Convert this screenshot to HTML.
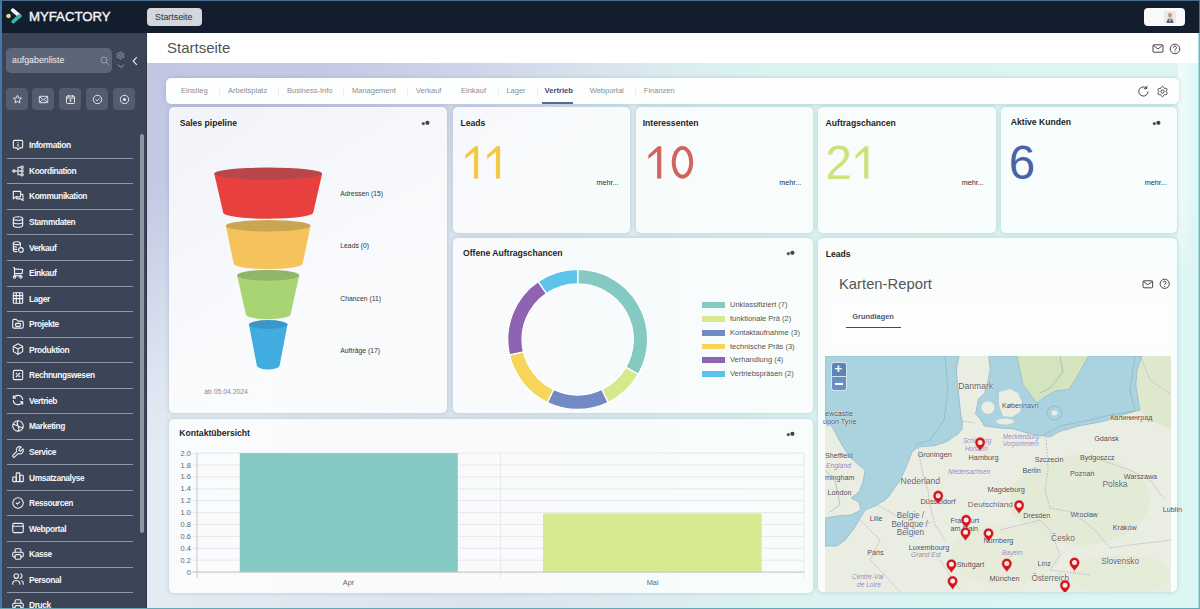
<!DOCTYPE html>
<html><head><meta charset="utf-8">
<style>
*{box-sizing:border-box;margin:0;padding:0}
html,body{width:1200px;height:609px;overflow:hidden}
body{position:relative;font-family:"Liberation Sans",sans-serif;background:#dff3f3;color:#222}
.a{position:absolute}
#top{left:0;top:0;width:1200px;height:33px;background:#121d2e}
#side{left:0;top:33px;width:147px;height:576px;background:#3b4557}
#main{left:147px;top:33px;width:1053px;height:576px;background:linear-gradient(144.6deg,rgba(194,198,227,1) 0%,rgba(195,199,228,.95) 12%,rgba(196,200,228,.55) 20%,rgba(196,200,228,.15) 27%,rgba(196,200,228,0) 32%),linear-gradient(to right,#e4ebf3 0%,#dce4ee 29%,#dbeaf0 45%,#dcf3f1 60%,#dcf6f3 100%)}
#hdr{left:147px;top:33px;width:1053px;height:30px;background:#fff}
.card{position:absolute;background:#f7f9fb;border-radius:5px;box-shadow:0 0 4px rgba(60,100,130,.25)}
.t{position:absolute;white-space:nowrap;line-height:1}
.ct{font-weight:bold;font-size:8.6px;color:#1e1e1e}
.nav{position:absolute;left:0;width:140px;height:25.6px}
.nav .sep{position:absolute;left:7px;width:126px;top:0;height:1px;background:#8f98a6}
.nav .lbl{position:absolute;left:29px;top:9.2px;font-size:8.4px;font-weight:bold;color:#f4f6fa;letter-spacing:-0.4px;line-height:1}
.nav svg{position:absolute;left:11px;top:5.8px}
.tab{position:absolute;top:87px;font-size:7.5px;color:#8a8e94;line-height:1}
.tsep{position:absolute;top:86.5px;width:1px;height:9px;background:#eceef0}
.num{position:absolute;font-size:47.5px;line-height:1;font-weight:normal}
.mehr{position:absolute;font-size:7.2px;color:#2a2a2a;line-height:1}
</style></head><body>
<div class="a" id="top"></div>
<div class="a" id="side"></div>
<div class="a" id="main"></div>
<div class="a" id="hdr"></div>
<div class="a" style="left:1178px;top:63px;width:20px;height:230px;background:linear-gradient(to right,rgba(246,252,252,.9) 0%,rgba(240,251,250,.6) 45%,rgba(214,245,241,.3) 100%);-webkit-mask-image:linear-gradient(to bottom,#000 60%,transparent 100%)"></div>


<!-- top bar -->
<svg class="a" style="left:4px;top:6px" width="20" height="20" viewBox="0 0 20 20">
<circle cx="4.5" cy="10" r="2.3" fill="#e8d97a"/>
<path d="M8.8 4.2 L15.6 9.9" stroke="#f4f6f8" stroke-width="3.8" stroke-linecap="round" fill="none"/>
<path d="M15.6 9.9 L9.2 15.6" stroke="#3fb3a3" stroke-width="3.8" stroke-linecap="round" fill="none"/>
</svg>
<div class="t" style="left:29px;top:10.3px;font-size:13.2px;color:#f4f6f9;-webkit-text-stroke:0.4px #f4f6f9">MYFACTORY</div>
<div class="a" style="left:147px;top:8px;width:55px;height:18px;background:#d3d6dc;border-radius:4px"></div>
<div class="t" style="left:155px;top:12.9px;font-size:8.9px;color:#2b2e33">Startseite</div>
<div class="a" style="left:1144px;top:8px;width:41px;height:18px;background:#f8f9fa;border-radius:4px"></div>
<svg class="a" style="left:1164px;top:11px" width="12" height="12" viewBox="0 0 12 12">
<rect x="0" y="0" width="12" height="12" fill="#eceae6"/>
<ellipse cx="6" cy="4.2" rx="2" ry="2.4" fill="#c89a7a"/>
<path d="M2.5 12 Q3 7.5 6 7.3 Q9 7.5 9.5 12 Z" fill="#5d6470"/>
<rect x="5.4" y="7.3" width="1.2" height="3" fill="#e9e5e0"/>
</svg>

<!-- sidebar -->
<div class="a" style="left:6px;top:48px;width:106px;height:25px;background:#5d6678;border-radius:5px"></div>
<div class="t" style="left:12px;top:56px;font-size:8.8px;color:#eef0f3">aufgabenliste</div>
<svg class="a" style="left:100px;top:56px" width="10" height="10" viewBox="0 0 10 10"><circle cx="4" cy="4" r="3" fill="none" stroke="#9aa2ae" stroke-width="1"/><path d="M6.2 6.2L9 9" stroke="#9aa2ae" stroke-width="1"/></svg>
<svg class="a" style="left:116px;top:50.5px" width="9" height="9" viewBox="0 0 9 9"><path d="M4.50 0.75L4.97 0.94L5.33 1.41L5.58 1.90L5.83 2.21L6.21 2.27L6.76 2.24L7.35 2.32L7.75 2.62L7.82 3.13L7.59 3.67L7.29 4.13L7.15 4.50L7.29 4.87L7.59 5.33L7.82 5.87L7.75 6.37L7.35 6.68L6.76 6.76L6.21 6.73L5.83 6.79L5.58 7.10L5.33 7.59L4.97 8.06L4.50 8.25L4.03 8.06L3.67 7.59L3.42 7.10L3.18 6.79L2.79 6.73L2.24 6.76L1.65 6.68L1.25 6.38L1.18 5.87L1.41 5.33L1.71 4.87L1.85 4.50L1.71 4.13L1.41 3.67L1.18 3.13L1.25 2.62L1.65 2.32L2.24 2.24L2.79 2.27L3.17 2.21L3.42 1.90L3.67 1.41L4.03 0.94Z" fill="none" stroke="#a9b0bb" stroke-width=".8"/><circle cx="4.5" cy="4.5" r="1.2" fill="none" stroke="#a9b0bb" stroke-width=".8"/></svg>
<svg class="a" style="left:117px;top:63px" width="8" height="6" viewBox="0 0 8 6"><path d="M1 1.5l3 3 3-3" fill="none" stroke="#a9b0bb" stroke-width=".9"/></svg>
<svg class="a" style="left:131px;top:56px" width="8" height="10" viewBox="0 0 8 10"><path d="M5.8 1.2L2.2 5l3.6 3.8" fill="none" stroke="#e2e6ec" stroke-width="1.2"/></svg>
<div class="a" style="left:6px;top:88px;width:22px;height:22px;background:#545d6f;border-radius:4px"></div>
<svg class="a" style="left:11.5px;top:93.5px" width="11" height="11" viewBox="0 0 11 11"><path d="M5.5 1.3l1.2 2.6 2.8.3-2.1 1.9.6 2.8-2.5-1.4-2.5 1.4.6-2.8-2.1-1.9 2.8-.3z" fill="none" stroke="#eef1f5" stroke-width=".9" stroke-linejoin="round"/></svg>
<div class="a" style="left:32px;top:88px;width:22px;height:22px;background:#545d6f;border-radius:4px"></div>
<svg class="a" style="left:37.5px;top:93.5px" width="11" height="11" viewBox="0 0 11 11"><rect x="1.3" y="2.3" width="8.4" height="6.4" rx=".8" fill="none" stroke="#eef1f5" stroke-width=".9"/><path d="M1.5 2.7l4 3.2 4-3.2M1.5 8.4l3-2.6M9.5 8.4l-3-2.6" fill="none" stroke="#eef1f5" stroke-width=".9"/></svg>
<div class="a" style="left:59px;top:88px;width:22px;height:22px;background:#545d6f;border-radius:4px"></div>
<svg class="a" style="left:64.5px;top:93.5px" width="11" height="11" viewBox="0 0 11 11"><rect x="1.5" y="2" width="8" height="7.5" rx="1" fill="none" stroke="#eef1f5" stroke-width=".9"/><path d="M1.5 4h8M3.5 1v2M7.5 1v2M4.5 5.8h2M5.5 5.8v2.3" fill="none" stroke="#eef1f5" stroke-width=".9"/></svg>
<div class="a" style="left:86px;top:88px;width:22px;height:22px;background:#545d6f;border-radius:4px"></div>
<svg class="a" style="left:91.5px;top:93.5px" width="11" height="11" viewBox="0 0 11 11"><circle cx="5.5" cy="5.5" r="4.2" fill="none" stroke="#eef1f5" stroke-width=".9"/><path d="M3.7 5.6l1.3 1.3 2.4-2.5" fill="none" stroke="#eef1f5" stroke-width=".9"/></svg>
<div class="a" style="left:113px;top:88px;width:22px;height:22px;background:#545d6f;border-radius:4px"></div>
<svg class="a" style="left:118.5px;top:93.5px" width="11" height="11" viewBox="0 0 11 11"><circle cx="5.5" cy="5.5" r="4.2" fill="none" stroke="#eef1f5" stroke-width=".9"/><circle cx="5.5" cy="5.5" r="1.5" fill="#eef1f5"/></svg>
<div class="nav" style="top:132.20px"><svg width="14" height="14" viewBox="0 0 24 24" fill="none" stroke="#eef1f5" stroke-width="1.9" stroke-linecap="round" stroke-linejoin="round"><path d="M6 4h12a2 2 0 0 1 2 2v9a2 2 0 0 1-2 2h-3.5L12 20l-2.5-3H6a2 2 0 0 1-2-2V6a2 2 0 0 1 2-2z"/><path d="M12 8v.01M12 11v3"/></svg><div class="lbl">Information</div></div>
<div class="nav" style="top:157.75px"><div class="sep"></div><svg width="14" height="14" viewBox="0 0 24 24" fill="none" stroke="#eef1f5" stroke-width="1.9" stroke-linecap="round" stroke-linejoin="round"><circle cx="5" cy="12" r="2"/><circle cx="19" cy="5.5" r="2"/><circle cx="19" cy="12" r="2"/><circle cx="19" cy="18.5" r="2"/><path d="M7 12h10M12 5.5v13M12 5.5h5M12 18.5h5"/></svg><div class="lbl">Koordination</div></div>
<div class="nav" style="top:183.30px"><div class="sep"></div><svg width="14" height="14" viewBox="0 0 24 24" fill="none" stroke="#eef1f5" stroke-width="1.9" stroke-linecap="round" stroke-linejoin="round"><path d="M4 4h11a1.5 1.5 0 0 1 1.5 1.5V12a1.5 1.5 0 0 1-1.5 1.5H8l-4 3.5V5.5A1.5 1.5 0 0 1 4 4z"/><path d="M16.5 9H19a1.5 1.5 0 0 1 1.5 1.5V20l-3.5-3h-6.5A1.5 1.5 0 0 1 9 15.5v-2"/></svg><div class="lbl">Kommunikation</div></div>
<div class="nav" style="top:208.85px"><div class="sep"></div><svg width="14" height="14" viewBox="0 0 24 24" fill="none" stroke="#eef1f5" stroke-width="1.9" stroke-linecap="round" stroke-linejoin="round"><ellipse cx="12" cy="6" rx="8" ry="3"/><path d="M4 6v6a8 3 0 0 0 16 0V6"/><path d="M4 12v6a8 3 0 0 0 16 0v-6"/></svg><div class="lbl">Stammdaten</div></div>
<div class="nav" style="top:234.40px"><div class="sep"></div><svg width="14" height="14" viewBox="0 0 24 24" fill="none" stroke="#eef1f5" stroke-width="1.9" stroke-linecap="round" stroke-linejoin="round"><ellipse cx="10" cy="5.5" rx="6" ry="2.5"/><path d="M4 5.5v12c0 1.4 2.7 2.5 6 2.5M16 5.5v5M4 9.5c0 1.4 2.7 2.5 6 2.5M4 13.5c0 1.4 2.7 2.5 6 2.5"/><circle cx="17" cy="17" r="4"/></svg><div class="lbl">Verkauf</div></div>
<div class="nav" style="top:259.95px"><div class="sep"></div><svg width="14" height="14" viewBox="0 0 24 24" fill="none" stroke="#eef1f5" stroke-width="1.9" stroke-linecap="round" stroke-linejoin="round"><circle cx="6" cy="19" r="2"/><circle cx="17" cy="19" r="2"/><path d="M17 17H6V3H4M6 5l14 1-1 7H6"/></svg><div class="lbl">Einkauf</div></div>
<div class="nav" style="top:285.50px"><div class="sep"></div><svg width="14" height="14" viewBox="0 0 24 24" fill="none" stroke="#eef1f5" stroke-width="1.9" stroke-linecap="round" stroke-linejoin="round"><rect x="4" y="3" width="16" height="18" rx="1"/><path d="M4 8h16M4 13h16M9 3v18M15 3v18"/></svg><div class="lbl">Lager</div></div>
<div class="nav" style="top:311.05px"><div class="sep"></div><svg width="14" height="14" viewBox="0 0 24 24" fill="none" stroke="#eef1f5" stroke-width="1.9" stroke-linecap="round" stroke-linejoin="round"><path d="M5 4h4l3 3h7a2 2 0 0 1 2 2v8a2 2 0 0 1-2 2H5a2 2 0 0 1-2-2V6a2 2 0 0 1 2-2"/><rect x="8" y="11" width="8" height="5" rx="1"/></svg><div class="lbl">Projekte</div></div>
<div class="nav" style="top:336.60px"><div class="sep"></div><svg width="14" height="14" viewBox="0 0 24 24" fill="none" stroke="#eef1f5" stroke-width="1.9" stroke-linecap="round" stroke-linejoin="round"><path d="M12 3l8 4.5v9L12 21l-8-4.5v-9L12 3"/><path d="M12 12l8-4.5M12 12v9M12 12L4 7.5"/></svg><div class="lbl">Produktion</div></div>
<div class="nav" style="top:362.15px"><div class="sep"></div><svg width="14" height="14" viewBox="0 0 24 24" fill="none" stroke="#eef1f5" stroke-width="1.9" stroke-linecap="round" stroke-linejoin="round"><rect x="4" y="4" width="16" height="16" rx="2"/><path d="M9 15l6-6"/><circle cx="9.5" cy="9.5" r=".6"/><circle cx="14.5" cy="14.5" r=".6"/></svg><div class="lbl">Rechnungswesen</div></div>
<div class="nav" style="top:387.70px"><div class="sep"></div><svg width="14" height="14" viewBox="0 0 24 24" fill="none" stroke="#eef1f5" stroke-width="1.9" stroke-linecap="round" stroke-linejoin="round"><path d="M20 11a8.1 8.1 0 0 0-15.5-2m-.5-4v4h4"/><path d="M4 13a8.1 8.1 0 0 0 15.5 2m.5 4v-4h-4"/></svg><div class="lbl">Vertrieb</div></div>
<div class="nav" style="top:413.25px"><div class="sep"></div><svg width="14" height="14" viewBox="0 0 24 24" fill="none" stroke="#eef1f5" stroke-width="1.9" stroke-linecap="round" stroke-linejoin="round"><circle cx="12" cy="12" r="9"/><path d="M12 3c-2 3-2 6 0 9s2 6 0 9M3.5 9c3 1 6 1 8.5 3s5.5 2 8.5 3"/></svg><div class="lbl">Marketing</div></div>
<div class="nav" style="top:438.80px"><div class="sep"></div><svg width="14" height="14" viewBox="0 0 24 24" fill="none" stroke="#eef1f5" stroke-width="1.9" stroke-linecap="round" stroke-linejoin="round"><g transform="translate(24 0) scale(-1 1)"><path d="M7 10h3V7L6.5 3.5a6 6 0 0 1 8 8l6 6a2 2 0 0 1-3 3l-6-6a6 6 0 0 1-8-8L7 10"/></g></svg><div class="lbl">Service</div></div>
<div class="nav" style="top:464.35px"><div class="sep"></div><svg width="14" height="14" viewBox="0 0 24 24" fill="none" stroke="#eef1f5" stroke-width="1.9" stroke-linecap="round" stroke-linejoin="round"><rect x="3" y="12" width="6" height="8" rx="1"/><rect x="9" y="5" width="6" height="15" rx="1"/><rect x="15" y="9" width="6" height="11" rx="1"/></svg><div class="lbl">Umsatzanalyse</div></div>
<div class="nav" style="top:489.90px"><div class="sep"></div><svg width="14" height="14" viewBox="0 0 24 24" fill="none" stroke="#eef1f5" stroke-width="1.9" stroke-linecap="round" stroke-linejoin="round"><circle cx="12" cy="12" r="9"/><path d="M9 12l2 2 4-4"/></svg><div class="lbl">Ressourcen</div></div>
<div class="nav" style="top:515.45px"><div class="sep"></div><svg width="14" height="14" viewBox="0 0 24 24" fill="none" stroke="#eef1f5" stroke-width="1.9" stroke-linecap="round" stroke-linejoin="round"><rect x="3" y="4" width="18" height="16" rx="2.5"/><path d="M3 9h18"/></svg><div class="lbl">Webportal</div></div>
<div class="nav" style="top:541.00px"><div class="sep"></div><svg width="14" height="14" viewBox="0 0 24 24" fill="none" stroke="#eef1f5" stroke-width="1.9" stroke-linecap="round" stroke-linejoin="round"><path d="M17 17h2a2 2 0 0 0 2-2v-4a2 2 0 0 0-2-2H5a2 2 0 0 0-2 2v4a2 2 0 0 0 2 2h2"/><path d="M17 9V5a2 2 0 0 0-2-2H9a2 2 0 0 0-2 2v4"/><rect x="7" y="13" width="10" height="8" rx="2"/></svg><div class="lbl">Kasse</div></div>
<div class="nav" style="top:566.55px"><div class="sep"></div><svg width="14" height="14" viewBox="0 0 24 24" fill="none" stroke="#eef1f5" stroke-width="1.9" stroke-linecap="round" stroke-linejoin="round"><circle cx="9" cy="7" r="4"/><path d="M3 21v-2a4 4 0 0 1 4-4h4a4 4 0 0 1 4 4v2M16 3.13a4 4 0 0 1 0 7.75M21 21v-2a4 4 0 0 0-3-3.85"/></svg><div class="lbl">Personal</div></div>
<div class="nav" style="top:592.10px"><div class="sep"></div><svg width="14" height="14" viewBox="0 0 24 24" fill="none" stroke="#eef1f5" stroke-width="1.9" stroke-linecap="round" stroke-linejoin="round"><path d="M17 17h2a2 2 0 0 0 2-2v-4a2 2 0 0 0-2-2H5a2 2 0 0 0-2 2v4a2 2 0 0 0 2 2h2"/><path d="M17 9V5a2 2 0 0 0-2-2H9a2 2 0 0 0-2 2v4"/><rect x="7" y="13" width="10" height="8" rx="2"/></svg><div class="lbl">Druck</div></div>
<div class="a" style="left:140px;top:134px;width:4px;height:399px;background:#8e96a2;border-radius:2px"></div>
<div class="a" style="left:146px;top:33px;width:1px;height:576px;background:#2e3545"></div>
<!-- main -->
<div class="t" style="left:167px;top:39.8px;font-size:15px;color:#505458">Startseite</div>
<svg class="a" style="left:1152px;top:43px" width="12" height="11" viewBox="0 0 12 11"><rect x="1" y="1.8" width="10" height="7.4" rx="1" fill="none" stroke="#444" stroke-width="1"/><path d="M1.3 2.3L6 6l4.7-3.7" fill="none" stroke="#444" stroke-width="1"/></svg>
<svg class="a" style="left:1169px;top:43px" width="12" height="12" viewBox="0 0 12 12"><circle cx="6" cy="6" r="4.8" fill="none" stroke="#444" stroke-width="1"/><path d="M4.5 4.7a1.5 1.5 0 1 1 2 1.4c-.4.2-.5.5-.5.9v.4" fill="none" stroke="#444" stroke-width="1"/><circle cx="6" cy="8.7" r=".55" fill="#444"/></svg>
<div class="card" style="left:166px;top:78px;width:1013px;height:25.5px;background:#fdfefe;border-radius:5px"></div>
<div class="tab" style="left:181px">Einstieg</div>
<div class="tab" style="left:228px">Arbeitsplatz</div>
<div class="tab" style="left:287px">Business-Info</div>
<div class="tab" style="left:352px">Management</div>
<div class="tab" style="left:416px">Verkauf</div>
<div class="tab" style="left:461px">Einkauf</div>
<div class="tab" style="left:506.4px">Lager</div>
<div class="tab" style="left:544.6px;font-weight:bold;color:#3d4b72;font-size:7.6px">Vertrieb</div>
<div class="tab" style="left:589.7px">Webportal</div>
<div class="tab" style="left:643.8px">Finanzen</div>
<div class="tsep" style="left:219px"></div>
<div class="tsep" style="left:277.7px"></div>
<div class="tsep" style="left:343.3px"></div>
<div class="tsep" style="left:406.9px"></div>
<div class="tsep" style="left:497.5px"></div>
<div class="tsep" style="left:537.2px"></div>
<div class="tsep" style="left:634.7px"></div>
<div class="a" style="left:542px;top:101.5px;width:30.5px;height:2px;background:#5a6b98"></div>
<svg class="a" style="left:1137px;top:85px" width="13" height="13" viewBox="0 0 13 13"><path d="M11 6.5A4.6 4.6 0 1 1 9.3 2.9" fill="none" stroke="#444" stroke-width="1"/><path d="M9.8 .8v2.9H6.9" fill="none" stroke="#444" stroke-width="1"/></svg>
<svg class="a" style="left:1155.5px;top:84.5px" width="13" height="13" viewBox="0 0 13 13"><path d="M6.50 1.35L7.14 1.61L7.64 2.25L7.98 2.92L8.32 3.34L8.86 3.43L9.61 3.39L10.41 3.50L10.96 3.92L11.06 4.61L10.75 5.36L10.34 5.99L10.15 6.50L10.34 7.01L10.75 7.64L11.06 8.39L10.96 9.07L10.41 9.50L9.61 9.61L8.86 9.57L8.32 9.66L7.98 10.08L7.64 10.75L7.14 11.39L6.50 11.65L5.86 11.39L5.36 10.75L5.02 10.08L4.68 9.66L4.14 9.57L3.39 9.61L2.59 9.50L2.04 9.08L1.94 8.39L2.25 7.64L2.66 7.01L2.85 6.50L2.66 5.99L2.25 5.36L1.94 4.61L2.04 3.92L2.59 3.50L3.39 3.39L4.14 3.43L4.67 3.34L5.02 2.92L5.36 2.25L5.86 1.61Z" fill="none" stroke="#444" stroke-width="1" stroke-linejoin="round"/><circle cx="6.5" cy="6.5" r="1.6" fill="none" stroke="#444" stroke-width="1"/></svg>
<div class="card" style="left:169px;top:107px;width:278px;height:306px;background:rgba(255,255,255,.8)"></div>
<div class="card" style="left:453px;top:107px;width:177px;height:126px;background:rgba(255,255,255,.8)"></div>
<div class="card" style="left:636px;top:107px;width:177px;height:126px;background:rgba(255,255,255,.8)"></div>
<div class="card" style="left:818px;top:107px;width:178px;height:126px;background:rgba(255,255,255,.8)"></div>
<div class="card" style="left:1001px;top:107px;width:176px;height:126px;background:rgba(255,255,255,.8)"></div>
<div class="card" style="left:453px;top:238px;width:360px;height:175px;background:rgba(255,255,255,.8)"></div>
<div class="card" style="left:818px;top:238px;width:359px;height:354px;background:rgba(255,255,255,.8)"></div>
<div class="card" style="left:169px;top:419px;width:644px;height:174px;background:rgba(255,255,255,.8)"></div>
<div class="t ct" style="left:179.7px;top:118.5px">Sales pipeline</div>
<div class="t ct" style="left:460.5px;top:119px">Leads</div>
<div class="t ct" style="left:642.7px;top:119px">Interessenten</div>
<div class="t ct" style="left:825.6px;top:119px">Auftragschancen</div>
<div class="t ct" style="left:1010.8px;top:117.7px">Aktive Kunden</div>
<div class="t ct" style="left:463px;top:248.5px">Offene Auftragschancen</div>
<div class="t ct" style="left:825.8px;top:250px">Leads</div>
<div class="t ct" style="left:179.3px;top:429px">Kontaktübersicht</div>
<svg class="a" style="left:421px;top:119.5px" width="10" height="6" viewBox="0 0 10 6"><circle cx="2.3" cy="3.6" r="1.6" fill="#555"/><circle cx="6.4" cy="2.8" r="2.1" fill="#444"/></svg>
<svg class="a" style="left:786px;top:250px" width="10" height="6" viewBox="0 0 10 6"><circle cx="2.3" cy="3.6" r="1.6" fill="#555"/><circle cx="6.4" cy="2.8" r="2.1" fill="#444"/></svg>
<svg class="a" style="left:1152px;top:119.5px" width="10" height="6" viewBox="0 0 10 6"><circle cx="2.3" cy="3.6" r="1.6" fill="#555"/><circle cx="6.4" cy="2.8" r="2.1" fill="#444"/></svg>
<svg class="a" style="left:786px;top:430.5px" width="10" height="6" viewBox="0 0 10 6"><circle cx="2.3" cy="3.6" r="1.6" fill="#555"/><circle cx="6.4" cy="2.8" r="2.1" fill="#444"/></svg>
<svg class="a" style="left:0;top:0" width="1200" height="200" viewBox="0 0 1200 200">
<path d="M474.0 178.4 V151.8 L465.3 158.9 V154.9 L474.9 146.3 H478.2 V178.4 Z" fill="#f0c945"/>
<path d="M495.9 178.4 V151.8 L487.2 158.9 V154.9 L496.8 146.3 H500.1 V178.4 Z" fill="#f0c945"/>
<path d="M657.1 178.4 V151.8 L648.4 158.9 V154.9 L658.0 146.3 H661.3 V178.4 Z" fill="#d1645e"/>
<ellipse cx="682.45" cy="162.3" rx="8.75" ry="14.4" fill="none" stroke="#d1645e" stroke-width="3.9"/>
<path d="M864.2 178.4 V151.8 L855.5 158.9 V154.9 L865.1 146.3 H868.4 V178.4 Z" fill="#cde27e"/>
</svg>
<div class="num" style="left:825.5px;top:139px;color:#cde27e">2</div>
<div class="num" style="left:1008.8px;top:139px;color:#4a63a6">6</div>
<div class="mehr" style="left:596.5px;top:179.4px">mehr...</div>
<div class="mehr" style="left:779.3px;top:179.4px">mehr...</div>
<div class="mehr" style="left:961.8px;top:179.4px">mehr...</div>
<div class="mehr" style="left:1144.7px;top:179.4px">mehr...</div>
<!-- funnel -->
<svg class="a" style="left:0;top:0" width="460" height="420" viewBox="0 0 460 420">
<path d="M214.2 173.6 L223.2 212.8 A45 6 0 0 0 313.2 212.8 L322.2 173.6 Z" fill="#e8403f"/>
<ellipse cx="268.2" cy="173.6" rx="54" ry="6.1" fill="#b9474a"/>
<path d="M225.8 225.8 L233.7 263.7 A34.5 5.5 0 0 0 302.7 263.7 L310.6 225.8 Z" fill="#f4c35b"/>
<ellipse cx="268.2" cy="225.8" rx="42.4" ry="5.7" fill="#caa552"/>
<path d="M237.1 275.3 L245.9 314.5 A22.3 4.7 0 0 0 290.5 314.5 L299.3 275.3 Z" fill="#a8d474"/>
<ellipse cx="268.2" cy="275.3" rx="31.1" ry="5.4" fill="#8fb56a"/>
<path d="M248.9 324.5 L256.8 365.4 A11.4 4 0 0 0 279.6 365.4 L287.5 324.5 Z" fill="#40ace0"/>
<ellipse cx="268.2" cy="324.5" rx="19.3" ry="4.4" fill="#3a97c8"/>
</svg>
<div class="t" style="left:340.3px;top:191.2px;font-size:6.8px;color:#333">Adressen (15)</div>
<div class="t" style="left:340.3px;top:243.3px;font-size:6.8px;color:#333">Leads (0)</div>
<div class="t" style="left:340.3px;top:296px;font-size:6.8px;color:#333">Chancen (11)</div>
<div class="t" style="left:340.3px;top:348.2px;font-size:6.8px;color:#333">Aufträge (17)</div>
<div class="t" style="left:204.3px;top:388.5px;font-size:6.8px;color:#8a8a8a">ab 05.04.2024</div>
<!-- donut -->
<svg class="a" style="left:0;top:0" width="820" height="420" viewBox="0 0 820 420">
<path d="M577.70 269.40 A70 70 0 0 1 638.32 374.40 L625.85 367.20 A55.6 55.6 0 0 0 577.70 283.80 Z" fill="#85c9c3" stroke="#fff" stroke-width="1.3"/>
<path d="M638.32 374.40 A70 70 0 0 1 608.07 402.47 L601.82 389.49 A55.6 55.6 0 0 0 625.85 367.20 Z" fill="#d7e98e" stroke="#fff" stroke-width="1.3"/>
<path d="M608.07 402.47 A70 70 0 0 1 547.33 402.47 L553.58 389.49 A55.6 55.6 0 0 0 601.82 389.49 Z" fill="#7189c5" stroke="#fff" stroke-width="1.3"/>
<path d="M547.33 402.47 A70 70 0 0 1 509.46 354.98 L523.49 351.77 A55.6 55.6 0 0 0 553.58 389.49 Z" fill="#f6d55a" stroke="#fff" stroke-width="1.3"/>
<path d="M509.46 354.98 A70 70 0 0 1 538.27 281.56 L546.38 293.46 A55.6 55.6 0 0 0 523.49 351.77 Z" fill="#8e63b4" stroke="#fff" stroke-width="1.3"/>
<path d="M538.27 281.56 A70 70 0 0 1 577.70 269.40 L577.70 283.80 A55.6 55.6 0 0 0 546.38 293.46 Z" fill="#5cc3e9" stroke="#fff" stroke-width="1.3"/>
</svg>
<div class="a" style="left:702px;top:302.40px;width:23.4px;height:5.7px;background:#85c9c3"></div>
<div class="t" style="left:730px;top:301.35px;font-size:7.5px;color:#555">Unklassifiziert (7)</div>
<div class="a" style="left:702px;top:316.12px;width:23.4px;height:5.7px;background:#d7e98e"></div>
<div class="t" style="left:730px;top:315.07px;font-size:7.5px;color:#555">funktionale Prä (2)</div>
<div class="a" style="left:702px;top:329.84px;width:23.4px;height:5.7px;background:#7189c5"></div>
<div class="t" style="left:730px;top:328.79px;font-size:7.5px;color:#555">Kontaktaufnahme (3)</div>
<div class="a" style="left:702px;top:343.56px;width:23.4px;height:5.7px;background:#f6d55a"></div>
<div class="t" style="left:730px;top:342.51px;font-size:7.5px;color:#555">technische Präs (3)</div>
<div class="a" style="left:702px;top:357.28px;width:23.4px;height:5.7px;background:#8e63b4"></div>
<div class="t" style="left:730px;top:356.23px;font-size:7.5px;color:#555">Verhandlung (4)</div>
<div class="a" style="left:702px;top:371.00px;width:23.4px;height:5.7px;background:#5cc3e9"></div>
<div class="t" style="left:730px;top:369.95px;font-size:7.5px;color:#555">Vertriebspräsen (2)</div>
<!-- bar chart -->
<svg class="a" style="left:0;top:0" width="820" height="600" viewBox="0 0 820 600">
<line x1="192.5" y1="572.10" x2="804" y2="572.10" stroke="#e6e8ea" stroke-width="1"/>
<line x1="192.5" y1="560.20" x2="804" y2="560.20" stroke="#e6e8ea" stroke-width="1"/>
<line x1="192.5" y1="548.30" x2="804" y2="548.30" stroke="#e6e8ea" stroke-width="1"/>
<line x1="192.5" y1="536.40" x2="804" y2="536.40" stroke="#e6e8ea" stroke-width="1"/>
<line x1="192.5" y1="524.50" x2="804" y2="524.50" stroke="#e6e8ea" stroke-width="1"/>
<line x1="192.5" y1="512.60" x2="804" y2="512.60" stroke="#e6e8ea" stroke-width="1"/>
<line x1="192.5" y1="500.70" x2="804" y2="500.70" stroke="#e6e8ea" stroke-width="1"/>
<line x1="192.5" y1="488.80" x2="804" y2="488.80" stroke="#e6e8ea" stroke-width="1"/>
<line x1="192.5" y1="476.90" x2="804" y2="476.90" stroke="#e6e8ea" stroke-width="1"/>
<line x1="192.5" y1="465.00" x2="804" y2="465.00" stroke="#e6e8ea" stroke-width="1"/>
<line x1="192.5" y1="453.10" x2="804" y2="453.10" stroke="#e6e8ea" stroke-width="1"/>
<rect x="239.8" y="453.1" width="218" height="119" fill="#86c8c4"/>
<rect x="543" y="513.5" width="218.7" height="58.6" fill="#d8ea8f"/>
<line x1="500.6" y1="453" x2="500.6" y2="578" stroke="#e6e8ea" stroke-width="1"/>
<line x1="804" y1="453" x2="804" y2="578" stroke="#e6e8ea" stroke-width="1"/>
<line x1="197" y1="453" x2="197" y2="578" stroke="#c8c8c8" stroke-width="1"/>
<line x1="192.5" y1="572.1" x2="804" y2="572.1" stroke="#c6c6c6" stroke-width="1"/>
</svg>
<div class="t" style="right:1009.2px;top:568.60px;font-size:7.4px;color:#666;text-align:right">0</div>
<div class="t" style="right:1009.2px;top:556.70px;font-size:7.4px;color:#666;text-align:right">0.2</div>
<div class="t" style="right:1009.2px;top:544.80px;font-size:7.4px;color:#666;text-align:right">0.4</div>
<div class="t" style="right:1009.2px;top:532.90px;font-size:7.4px;color:#666;text-align:right">0.6</div>
<div class="t" style="right:1009.2px;top:521.00px;font-size:7.4px;color:#666;text-align:right">0.8</div>
<div class="t" style="right:1009.2px;top:509.10px;font-size:7.4px;color:#666;text-align:right">1.0</div>
<div class="t" style="right:1009.2px;top:497.20px;font-size:7.4px;color:#666;text-align:right">1.2</div>
<div class="t" style="right:1009.2px;top:485.30px;font-size:7.4px;color:#666;text-align:right">1.4</div>
<div class="t" style="right:1009.2px;top:473.40px;font-size:7.4px;color:#666;text-align:right">1.6</div>
<div class="t" style="right:1009.2px;top:461.50px;font-size:7.4px;color:#666;text-align:right">1.8</div>
<div class="t" style="right:1009.2px;top:449.60px;font-size:7.4px;color:#666;text-align:right">2.0</div>
<div class="t" style="left:342.8px;top:578.5px;font-size:7.4px;color:#666">Apr</div>
<div class="t" style="left:646.7px;top:578.5px;font-size:7.4px;color:#666">Mai</div>
<!-- map card -->
<div class="a" style="left:826px;top:262px;width:346px;height:92px;background:#fbfdfd"></div>
<div class="a" style="left:832px;top:303px;width:338px;height:42px;background:#fefefe;border-radius:3px"></div>
<div class="t" style="left:839px;top:276.8px;font-size:14.8px;color:#555">Karten-Report</div>
<svg class="a" style="left:1142px;top:278.5px" width="12" height="11" viewBox="0 0 12 11"><rect x="1" y="1.8" width="9.6" height="7" rx="1" fill="none" stroke="#444" stroke-width="1"/><path d="M1.3 2.3L5.8 5.8l4.5-3.5" fill="none" stroke="#444" stroke-width="1"/></svg>
<svg class="a" style="left:1159px;top:278px" width="12" height="12" viewBox="0 0 12 12"><circle cx="5.7" cy="5.8" r="4.6" fill="none" stroke="#444" stroke-width="1"/><path d="M4.3 4.5a1.4 1.4 0 1 1 1.9 1.3c-.4.2-.5.5-.5.9v.3" fill="none" stroke="#444" stroke-width="1"/><circle cx="5.7" cy="8.4" r=".55" fill="#444"/></svg>
<div class="t" style="left:852.3px;top:313.4px;font-size:7.4px;font-weight:bold;color:#4e5b73">Grundlagen</div>
<div class="a" style="left:846px;top:326.5px;width:54.7px;height:1.5px;background:#3b4a5e"></div>
<svg class="a" style="left:825px;top:356px" width="346" height="236" viewBox="0 0 346 236">
<rect x="0" y="0" width="346" height="236" fill="#eaede1"/>
<polygon points="191.0,0.0 265.0,0.0 258.0,11.0 250.0,25.0 243.0,34.0 230.0,35.0 218.0,42.0 212.0,48.0 205.0,41.0 197.0,29.0 194.0,14.0" fill="#d4e4be"/>
<polygon points="315.0,0.0 347.0,0.0 347.0,74.0 325.0,64.0 314.0,54.0 311.0,28.0 312.0,14.0" fill="#dde8cf"/>
<ellipse cx="255" cy="144" rx="70" ry="45" fill="#e3ead6"/>
<ellipse cx="180" cy="199" rx="55" ry="30" fill="#e6ecd9"/>
<ellipse cx="295" cy="219" rx="50" ry="20" fill="#e4ebd6"/>
<polygon points="0.0,0.0 134.0,0.0 131.3,13.8 132.7,28.6 134.2,43.3 135.7,58.1 137.2,65.5 137.2,72.9 133.0,78.0 128.0,81.0 122.0,85.6 110.0,89.6 93.0,91.0 87.0,96.0 82.0,109.0 78.0,118.0 74.0,126.0 68.0,134.0 64.0,140.0 60.0,144.0 50.0,150.0 40.0,154.0 34.0,164.0 28.0,174.0 20.0,184.0 12.0,190.0 0.0,190.0 0.0,162.0 12.0,160.0 26.0,159.0 36.0,154.0 34.0,146.0 26.0,142.0 34.0,136.0 38.0,126.0 40.0,114.0 28.0,104.0 20.0,94.0 13.0,82.0 8.0,72.0 0.0,64.0" fill="#aad3df" stroke="#93b9cc" stroke-width=".8"/>
<polygon points="163.8,0.0 191.8,0.0 194.8,13.8 197.8,28.6 206.6,40.4 212.0,47.0 218.4,42.0 230.3,35.0 243.8,33.5 249.7,24.6 257.6,10.8 263.5,0.0 316.7,0.0 312.0,14.0 310.8,28.5 314.7,54.2 300.0,58.0 283.0,64.0 275.0,66.0 253.6,69.9 233.9,75.8 225.0,81.0 218.2,79.8 204.4,77.8 188.9,72.9 175.0,72.0 159.3,70.0 155.0,62.5 150.5,58.1 152.0,50.7 153.4,43.3 159.3,37.4 162.3,28.6 165.2,13.8" fill="#aad3df" stroke="#93b9cc" stroke-width=".8"/>
<polygon points="174.0,36.0 185.0,33.0 193.0,37.0 197.0,46.0 195.0,56.0 187.0,61.0 178.0,60.0 174.0,49.0" fill="#eaede1"/>
<ellipse cx="163" cy="51.5" rx="6.6" ry="6.3" fill="#eaede1"/>
<ellipse cx="180" cy="65.5" rx="9" ry="3" fill="#eaede1"/>
<ellipse cx="229.5" cy="57" rx="3" ry="2.4" fill="#eaede1"/>
<polyline points="235.0,0.0 238.0,16.0 225.0,32.0 215.0,37.0" fill="none" stroke="#86abc0" stroke-width=".6"/>
<polyline points="218.0,79.0 235.0,70.0 265.0,64.0 285.0,59.0 310.0,55.0" fill="none" stroke="#86abc0" stroke-width=".6"/>
<polyline points="310.0,0.0 305.0,34.0 310.0,54.0" fill="none" stroke="#86abc0" stroke-width=".6"/>
<polyline points="120.0,0.0 123.0,34.0 119.0,64.0 105.0,84.0 90.0,89.0" fill="none" stroke="#86abc0" stroke-width=".6"/>
<polyline points="0.0,114.0 10.0,124.0 15.0,149.0 5.0,156.0" fill="none" stroke="#86abc0" stroke-width=".6"/>
<ellipse cx="229.5" cy="57" rx="7" ry="7" fill="none" stroke="#86abc0" stroke-width=".6"/>
<polyline points="93.0,92.0 97.0,114.0 103.0,134.0 105.0,149.0 110.0,169.0 120.0,184.0" fill="none" stroke="#b9aac6" stroke-width=".7" stroke-dasharray="2 1"/>
<polyline points="53.0,149.0 70.0,159.0 90.0,166.0 107.0,167.0" fill="none" stroke="#b9aac6" stroke-width=".7" stroke-dasharray="2 1"/>
<polyline points="221.0,81.0 223.0,114.0 220.0,134.0 225.0,152.0 247.0,156.0 270.0,174.0 285.0,192.0" fill="none" stroke="#b9aac6" stroke-width=".7" stroke-dasharray="2 1"/>
<polyline points="175.0,174.0 195.0,169.0 215.0,164.0 225.0,174.0 235.0,199.0 225.0,214.0 265.0,219.0" fill="none" stroke="#b9aac6" stroke-width=".7" stroke-dasharray="2 1"/>
<polyline points="115.0,204.0 135.0,234.0" fill="none" stroke="#b9aac6" stroke-width=".7" stroke-dasharray="2 1"/>
<polyline points="137.0,65.0 150.0,67.0" fill="none" stroke="#b9aac6" stroke-width=".7" stroke-dasharray="2 1"/>
<polyline points="285.0,192.0 305.0,189.0 347.0,184.0" fill="none" stroke="#b9aac6" stroke-width=".7" stroke-dasharray="2 1"/>
<polyline points="275.0,104.0 305.0,114.0 325.0,124.0 340.0,144.0" fill="none" stroke="#b9aac6" stroke-width=".7" stroke-dasharray="2 1"/>
<polyline points="35.0,164.0 55.0,184.0 45.0,204.0 60.0,219.0 75.0,236.0" fill="none" stroke="#b9aac6" stroke-width=".7" stroke-dasharray="2 1"/>
<polyline points="315.0,0.0 325.0,24.0 347.0,39.0" fill="none" stroke="#b9aac6" stroke-width=".7" stroke-dasharray="2 1"/>
</svg>
<div class="t" style="left:958.3px;top:382.2px;font-size:8.6px;color:#5e5e5e;text-shadow:0 0 1px #fff,0 0 1px #fff">Danmark</div>
<div class="t" style="left:1001.9px;top:401.5px;font-size:7.2px;color:#474747;text-shadow:0 0 1px #fff,0 0 1px #fff">København</div>
<div class="t" style="left:825px;top:409.5px;font-size:7.2px;color:#474747;text-shadow:0 0 1px #fff,0 0 1px #fff">ewcastle</div>
<div class="t" style="left:823px;top:417.5px;font-size:7.2px;color:#474747;text-shadow:0 0 1px #fff,0 0 1px #fff">upon Tyne</div>
<div class="t" style="left:825px;top:451.5px;font-size:7.2px;color:#474747;text-shadow:0 0 1px #fff,0 0 1px #fff">Sheffield</div>
<div class="t" style="left:826px;top:462.7px;font-size:6.8px;color:#8a7fb0;font-style:italic;text-shadow:0 0 1px #fff,0 0 1px #fff">England</div>
<div class="t" style="left:825px;top:473.5px;font-size:7.2px;color:#474747;text-shadow:0 0 1px #fff,0 0 1px #fff">mingham</div>
<div class="t" style="left:827.4px;top:488.5px;font-size:7.2px;color:#474747;text-shadow:0 0 1px #fff,0 0 1px #fff">London</div>
<div class="t" style="left:917.7px;top:450.5px;font-size:7.3px;color:#474747;text-shadow:0 0 1px #fff,0 0 1px #fff">Groningen</div>
<div class="t" style="left:968.6px;top:453.5px;font-size:7.3px;color:#474747;text-shadow:0 0 1px #fff,0 0 1px #fff">Hamburg</div>
<div class="t" style="left:962.9px;top:438.0px;font-size:6.3px;color:#8a7fb0;font-style:italic;text-shadow:0 0 1px #fff,0 0 1px #fff">Schleswig</div>
<div class="t" style="left:965px;top:446.0px;font-size:6.3px;color:#8a7fb0;font-style:italic;text-shadow:0 0 1px #fff,0 0 1px #fff">Holstein</div>
<div class="t" style="left:1002.7px;top:434.0px;font-size:6.3px;color:#8a7fb0;font-style:italic;text-shadow:0 0 1px #fff,0 0 1px #fff">Mecklenburg-</div>
<div class="t" style="left:1002.7px;top:441.0px;font-size:6.3px;color:#8a7fb0;font-style:italic;text-shadow:0 0 1px #fff,0 0 1px #fff">Vorpommern</div>
<div class="t" style="left:948px;top:469.0px;font-size:6.3px;color:#8a7fb0;font-style:italic;text-shadow:0 0 1px #fff,0 0 1px #fff">Niedersachsen</div>
<div class="t" style="left:900.5px;top:476.9px;font-size:8.6px;color:#5e5e5e;text-shadow:0 0 1px #fff,0 0 1px #fff">Nederland</div>
<div class="t" style="left:1022.4px;top:466.5px;font-size:7.2px;color:#474747;text-shadow:0 0 1px #fff,0 0 1px #fff">Berlin</div>
<div class="t" style="left:1034.7px;top:455.5px;font-size:7.2px;color:#474747;text-shadow:0 0 1px #fff,0 0 1px #fff">Szczecin</div>
<div class="t" style="left:1094.2px;top:434.5px;font-size:7.2px;color:#474747;text-shadow:0 0 1px #fff,0 0 1px #fff">Gdańsk</div>
<div class="t" style="left:1110.2px;top:413.6px;font-size:7.0px;color:#474747;text-shadow:0 0 1px #fff,0 0 1px #fff">Калининград</div>
<div class="t" style="left:1079.9px;top:453.5px;font-size:7.2px;color:#474747;text-shadow:0 0 1px #fff,0 0 1px #fff">Bydgoszcz</div>
<div class="t" style="left:1070px;top:469.5px;font-size:7.2px;color:#474747;text-shadow:0 0 1px #fff,0 0 1px #fff">Poznań</div>
<div class="t" style="left:1123.8px;top:472.5px;font-size:7.2px;color:#474747;text-shadow:0 0 1px #fff,0 0 1px #fff">Warszawa</div>
<div class="t" style="left:1102.4px;top:480.0px;font-size:8.4px;color:#5e5e5e;text-shadow:0 0 1px #fff,0 0 1px #fff">Polska</div>
<div class="t" style="left:987.5px;top:486.4px;font-size:7.4px;color:#474747;text-shadow:0 0 1px #fff,0 0 1px #fff">Magdeburg</div>
<div class="t" style="left:967.8px;top:501.1px;font-size:8.1px;color:#5e5e5e;text-shadow:0 0 1px #fff,0 0 1px #fff">Deutschland</div>
<div class="t" style="left:920.6px;top:497.5px;font-size:7.3px;color:#474747;text-shadow:0 0 1px #fff,0 0 1px #fff">Düsseldorf</div>
<div class="t" style="left:1023.2px;top:511.5px;font-size:7.2px;color:#474747;text-shadow:0 0 1px #fff,0 0 1px #fff">Dresden</div>
<div class="t" style="left:1070.4px;top:510.5px;font-size:7.2px;color:#474747;text-shadow:0 0 1px #fff,0 0 1px #fff">Wrocław</div>
<div class="t" style="left:1162.8px;top:505.5px;font-size:7.2px;color:#474747;text-shadow:0 0 1px #fff,0 0 1px #fff">Lublin</div>
<div class="t" style="left:896.8px;top:512.1px;font-size:8.2px;color:#5e5e5e;text-shadow:0 0 1px #fff,0 0 1px #fff">Belgie /</div>
<div class="t" style="left:891.4px;top:520.6px;font-size:8.2px;color:#5e5e5e;text-shadow:0 0 1px #fff,0 0 1px #fff">Belgique /</div>
<div class="t" style="left:896.8px;top:529.1px;font-size:8.2px;color:#5e5e5e;text-shadow:0 0 1px #fff,0 0 1px #fff">Belgien</div>
<div class="t" style="left:869.7px;top:514.5px;font-size:7.2px;color:#474747;text-shadow:0 0 1px #fff,0 0 1px #fff">Lille</div>
<div class="t" style="left:950.5px;top:516.5px;font-size:7.2px;color:#474747;text-shadow:0 0 1px #fff,0 0 1px #fff">Frankfurt</div>
<div class="t" style="left:950.5px;top:524.5px;font-size:7.2px;color:#474747;text-shadow:0 0 1px #fff,0 0 1px #fff">am Main</div>
<div class="t" style="left:983.4px;top:536.5px;font-size:7.2px;color:#474747;text-shadow:0 0 1px #fff,0 0 1px #fff">Nürnberg</div>
<div class="t" style="left:1051.1px;top:534.0px;font-size:8.4px;color:#5e5e5e;text-shadow:0 0 1px #fff,0 0 1px #fff">Česko</div>
<div class="t" style="left:1112.7px;top:523.5px;font-size:7.2px;color:#474747;text-shadow:0 0 1px #fff,0 0 1px #fff">Kraków</div>
<div class="t" style="left:867.2px;top:548.5px;font-size:7.2px;color:#474747;text-shadow:0 0 1px #fff,0 0 1px #fff">Paris</div>
<div class="t" style="left:908.7px;top:543.5px;font-size:7.3px;color:#474747;text-shadow:0 0 1px #fff,0 0 1px #fff">Luxembourg</div>
<div class="t" style="left:911.1px;top:551.8px;font-size:6.6px;color:#7b8794;font-style:italic;text-shadow:0 0 1px #fff,0 0 1px #fff">Grand Est</div>
<div class="t" style="left:956.7px;top:560.5px;font-size:7.3px;color:#474747;text-shadow:0 0 1px #fff,0 0 1px #fff">Stuttgart</div>
<div class="t" style="left:1001.9px;top:549.8px;font-size:6.6px;color:#8a7fb0;font-style:italic;text-shadow:0 0 1px #fff,0 0 1px #fff">Bayern</div>
<div class="t" style="left:989.5px;top:574.5px;font-size:7.3px;color:#474747;text-shadow:0 0 1px #fff,0 0 1px #fff">München</div>
<div class="t" style="left:1037.6px;top:559.5px;font-size:7.2px;color:#474747;text-shadow:0 0 1px #fff,0 0 1px #fff">Linz</div>
<div class="t" style="left:1101.2px;top:558.1px;font-size:8.2px;color:#5e5e5e;text-shadow:0 0 1px #fff,0 0 1px #fff">Slovensko</div>
<div class="t" style="left:852px;top:573.8px;font-size:6.6px;color:#8a7fb0;font-style:italic;text-shadow:0 0 1px #fff,0 0 1px #fff">Centre-Val</div>
<div class="t" style="left:857px;top:581.8px;font-size:6.6px;color:#8a7fb0;font-style:italic;text-shadow:0 0 1px #fff,0 0 1px #fff">de Loire</div>
<div class="t" style="left:1031.4px;top:575.1px;font-size:8.2px;color:#5e5e5e;text-shadow:0 0 1px #fff,0 0 1px #fff">Österreich</div>
<svg class="a" style="left:825px;top:356px" width="346" height="236" viewBox="0 0 346 236" overflow="hidden">
<path transform="translate(155.1,95.2)" d="M0 0C-1 -2.6 -5.1 -5.3 -5.1 -8.8A5.1 5.1 0 1 1 5.1 -8.8C5.1 -5.3 1 -2.6 0 0Z" fill="#d2151d" stroke="#f7d9d9" stroke-width=".4"/>
<circle cx="155.1" cy="86.4" r="2.5" fill="#fbeaea"/>
<path transform="translate(113.2,148.5)" d="M0 0C-1 -2.6 -5.1 -5.3 -5.1 -8.8A5.1 5.1 0 1 1 5.1 -8.8C5.1 -5.3 1 -2.6 0 0Z" fill="#d2151d" stroke="#f7d9d9" stroke-width=".4"/>
<circle cx="113.2" cy="139.7" r="2.5" fill="#fbeaea"/>
<path transform="translate(194.1,158.0)" d="M0 0C-1 -2.6 -5.1 -5.3 -5.1 -8.8A5.1 5.1 0 1 1 5.1 -8.8C5.1 -5.3 1 -2.6 0 0Z" fill="#d2151d" stroke="#f7d9d9" stroke-width=".4"/>
<circle cx="194.1" cy="149.2" r="2.5" fill="#fbeaea"/>
<path transform="translate(141.2,172.7)" d="M0 0C-1 -2.6 -5.1 -5.3 -5.1 -8.8A5.1 5.1 0 1 1 5.1 -8.8C5.1 -5.3 1 -2.6 0 0Z" fill="#d2151d" stroke="#f7d9d9" stroke-width=".4"/>
<circle cx="141.2" cy="163.9" r="2.5" fill="#fbeaea"/>
<path transform="translate(140.5,185.1)" d="M0 0C-1 -2.6 -5.1 -5.3 -5.1 -8.8A5.1 5.1 0 1 1 5.1 -8.8C5.1 -5.3 1 -2.6 0 0Z" fill="#d2151d" stroke="#f7d9d9" stroke-width=".4"/>
<circle cx="140.5" cy="176.3" r="2.5" fill="#fbeaea"/>
<path transform="translate(163.5,186.1)" d="M0 0C-1 -2.6 -5.1 -5.3 -5.1 -8.8A5.1 5.1 0 1 1 5.1 -8.8C5.1 -5.3 1 -2.6 0 0Z" fill="#d2151d" stroke="#f7d9d9" stroke-width=".4"/>
<circle cx="163.5" cy="177.3" r="2.5" fill="#fbeaea"/>
<path transform="translate(126.4,217.1)" d="M0 0C-1 -2.6 -5.1 -5.3 -5.1 -8.8A5.1 5.1 0 1 1 5.1 -8.8C5.1 -5.3 1 -2.6 0 0Z" fill="#d2151d" stroke="#f7d9d9" stroke-width=".4"/>
<circle cx="126.4" cy="208.3" r="2.5" fill="#fbeaea"/>
<path transform="translate(181.8,216.3)" d="M0 0C-1 -2.6 -5.1 -5.3 -5.1 -8.8A5.1 5.1 0 1 1 5.1 -8.8C5.1 -5.3 1 -2.6 0 0Z" fill="#d2151d" stroke="#f7d9d9" stroke-width=".4"/>
<circle cx="181.8" cy="207.5" r="2.5" fill="#fbeaea"/>
<path transform="translate(249.5,215.4)" d="M0 0C-1 -2.6 -5.1 -5.3 -5.1 -8.8A5.1 5.1 0 1 1 5.1 -8.8C5.1 -5.3 1 -2.6 0 0Z" fill="#d2151d" stroke="#f7d9d9" stroke-width=".4"/>
<circle cx="249.5" cy="206.6" r="2.5" fill="#fbeaea"/>
<path transform="translate(127.6,233.9)" d="M0 0C-1 -2.6 -5.1 -5.3 -5.1 -8.8A5.1 5.1 0 1 1 5.1 -8.8C5.1 -5.3 1 -2.6 0 0Z" fill="#d2151d" stroke="#f7d9d9" stroke-width=".4"/>
<circle cx="127.6" cy="225.1" r="2.5" fill="#fbeaea"/>
<path transform="translate(240.0,238.0)" d="M0 0C-1 -2.6 -5.1 -5.3 -5.1 -8.8A5.1 5.1 0 1 1 5.1 -8.8C5.1 -5.3 1 -2.6 0 0Z" fill="#d2151d" stroke="#f7d9d9" stroke-width=".4"/>
<circle cx="240.0" cy="229.2" r="2.5" fill="#fbeaea"/>
</svg>
<div class="a" style="left:831px;top:362px;width:16px;height:29px;background:#d9e6ef;border-radius:3px;opacity:.85"></div>
<div class="a" style="left:832px;top:363px;width:14px;height:13px;background:#5d84b8;border-radius:2px 2px 0 0"></div>
<div class="a" style="left:832px;top:377px;width:14px;height:13px;background:#6a8fc0;border-radius:0 0 2px 2px"></div>
<div class="t" style="left:834.5px;top:362px;font-size:13px;font-weight:bold;color:#fff">+</div>
<div class="a" style="left:835px;top:383px;width:8px;height:1.8px;background:#fff"></div>
<!-- window border -->
<div class="a" style="left:0;top:0;width:1200px;height:1px;background:#4a6d8e"></div>
<div class="a" style="left:0;top:0;width:1.5px;height:609px;background:#4278a8"></div>
<div class="a" style="left:1198.5px;top:0;width:1.5px;height:33px;background:#3c78a4"></div>
<div class="a" style="left:1198px;top:33px;width:1px;height:576px;background:#a9dfe2"></div><div class="a" style="left:1199px;top:33px;width:1px;height:576px;background:#6cb6c3"></div>
<div class="a" style="left:0;top:607.5px;width:1200px;height:1.5px;background:#62a9b9"></div>
</body></html>
